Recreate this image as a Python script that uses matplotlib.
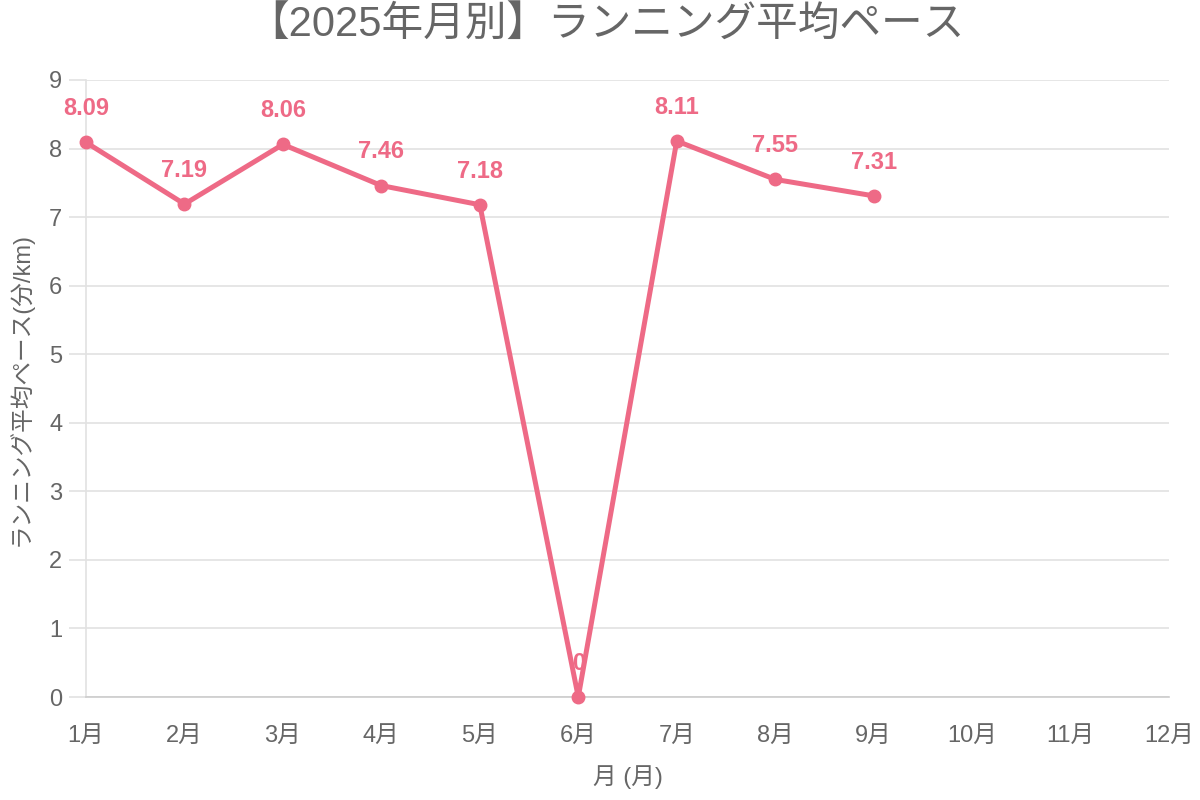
import matplotlib
matplotlib.use("Agg")
import matplotlib.pyplot as plt

months = ["1月", "2月", "3月", "4月", "5月", "6月", "7月", "8月", "9月", "10月", "11月", "12月"]
pace = [8.09, 7.19, 8.06, 7.46, 7.18, 0, 8.11, 7.55, 7.31]
pace_labels = ["8.09", "7.19", "8.06", "7.46", "7.18", "0", "8.11", "7.55", "7.31"]
y_ticks = list(range(0, 10))

plt.rcParams['font.family'] = ['Liberation Sans', 'Noto Sans CJK JP', 'DejaVu Sans']

line_color = "#EE6A86"
text_color = "#666666"
grid_color = "#E2E2E2"

fig = plt.figure(figsize=(12, 8), dpi=100)
ax = fig.add_axes([86 / 1200, 103 / 800, (1169 - 86) / 1200, (697 - 80) / 800])

x = list(range(len(pace)))
ax.plot(x, pace, color=line_color, linewidth=3.6, marker="o", markersize=9,
        solid_joinstyle="miter", zorder=3, clip_on=False)

for xi, v, lab in zip(x, pace, pace_labels):
    ax.annotate(lab, (xi, v), xytext=(0, 16), textcoords="offset points",
                ha="center", va="bottom", fontsize=17, fontweight="bold",
                color=line_color, zorder=4)

ax.set_xlim(0, len(months) - 1)
ax.set_ylim(0, 9)
ax.set_xticks(range(len(months)))
ax.set_xticklabels(months)
ax.set_yticks(y_ticks)

ax.grid(axis="y", color=grid_color, linewidth=1.2)
ax.set_axisbelow(True)
for side in ["top", "right"]:
    ax.spines[side].set_visible(False)
ax.spines["left"].set_color(grid_color)
ax.spines["left"].set_linewidth(1.2)
ax.spines["bottom"].set_color("#CCCCCC")
ax.spines["bottom"].set_linewidth(1.2)

ax.tick_params(axis="y", length=12, color=grid_color, width=1.2, labelsize=17,
               labelcolor=text_color, pad=5)
ax.tick_params(axis="x", length=0, labelsize=17, labelcolor=text_color, pad=20)

ax.set_xlabel("月 (月)", fontsize=17, color=text_color, labelpad=13)
ax.set_ylabel("ランニング平均ペース(分/km)", fontsize=17, color=text_color, labelpad=12)

fig.text(0.505, 0.968, "【2025年月別】ランニング平均ペース", fontsize=30,
         color=text_color, ha="center", va="center")

fig.savefig("out.png", dpi=100)
